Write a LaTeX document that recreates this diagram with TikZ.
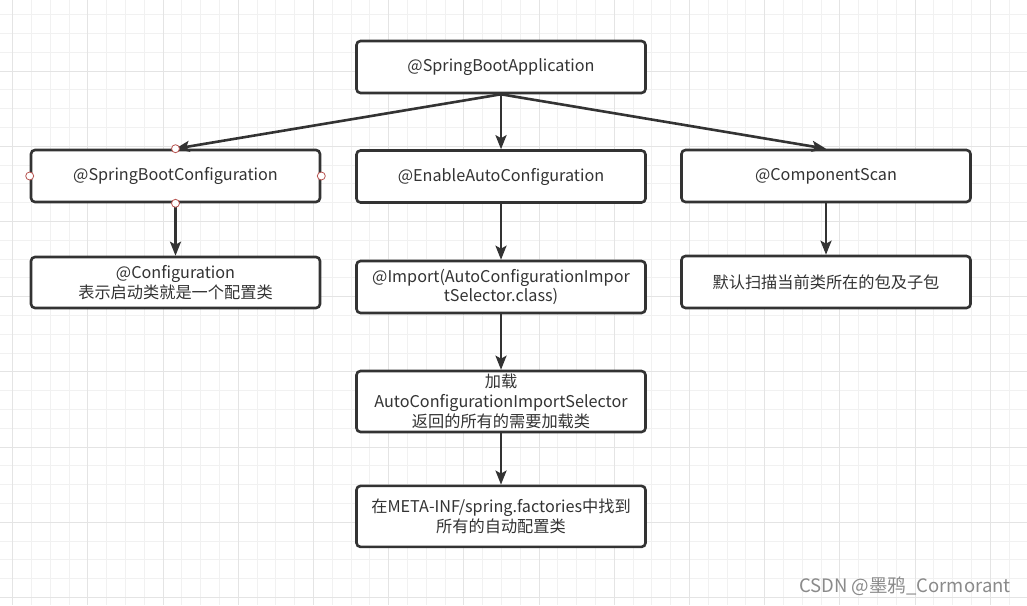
\documentclass[tikz,border=0pt]{standalone}
\usepackage{fontspec}
\setmainfont{Noto Sans CJK SC}
\usetikzlibrary{arrows.meta}
\definecolor{ink}{HTML}{333333}
\definecolor{gminor}{HTML}{F1F1F1}
\definecolor{gmajor}{HTML}{E4E4E4}
\definecolor{handlec}{HTML}{B85450}
\definecolor{wmc}{HTML}{8A8A8A}
\begin{document}
\begin{tikzpicture}[x=1pt,y=-1pt,
  box/.style={draw=ink, line width=2.6pt, rounded corners=4pt, fill=white,
    minimum width=289pt, minimum height=52pt, text=ink,
    font=\fontsize{16.2}{19.8}\selectfont, align=center, inner sep=0pt},
  arr/.style={draw=ink, line width=2.6pt, -{Stealth[length=14pt,width=11pt,inset=3pt]}},
  handle/.style={circle, draw=handlec, fill=white, line width=0.8pt, minimum size=8pt, inner sep=0pt},
  gmin/.style={draw=gminor, line width=1pt},
  gmaj/.style={draw=gmajor, line width=1pt},
  wm/.style={text=wmc, font=\fontsize{18.5}{22}\selectfont}]
\useasboundingbox[fill=white] (0,0) rectangle (1027,605);
% grid
\foreach \i in {0,...,54} \draw[gmin] ({12.7+18.8*\i},0) -- ({12.7+18.8*\i},605);
\foreach \i in {0,...,32} \draw[gmin] (0,{14.6+18.8*\i}) -- (1027,{14.6+18.8*\i});
\foreach \i in {0,...,13} \draw[gmaj] ({12.7+75.2*\i},0) -- ({12.7+75.2*\i},605);
\foreach \i in {0,...,8} \draw[gmaj] (0,{-4.2+75.2*\i}) -- (1027,{-4.2+75.2*\i});
% nodes
\node[box] (sba) at (501,67) {@SpringBootApplication};
\node[box] (sbc) at (175.5,176) {@SpringBootConfiguration};
\node[box] (eac) at (501,176.5) {@EnableAutoConfiguration};
\node[box] (cs) at (826,176) {@ComponentScan};
\node[box, minimum height=51pt] (cfg) at (175.5,282.5) {@Configuration\\表示启动类就是一个配置类};
\node[box] (imp) at (501,287) {@Import(AutoConfigurationImpor\\tSelector.class)};
\node[box] (scan) at (826,282) {默认扫描当前类所在的包及子包};
\node[box, minimum height=61pt] (load) at (501,401.5) {加载\\AutoConfigurationImportSelector\\返回的所有的需要加载类};
\node[box, minimum height=61pt] (meta) at (501,516.4) {在META-INF/spring.factories中找到\\所有的自动配置类};
% connectors
\draw[arr] (sba.south) -- (sbc.north);
\draw[arr] (sba.south) -- (eac.north);
\draw[arr] (sba.south) -- (cs.north);
\draw[arr] (sbc.south) -- (cfg.north);
\draw[arr] (eac.south) -- (imp.north);
\draw[arr] (imp.south) -- (load.north);
\draw[arr] (load.south) -- (meta.north);
\draw[arr] (cs.south) -- (scan.north);
% selection handles
\node[handle] (h1) at (sbc.north) {};
\node[handle] (h2) at (sbc.south) {};
\node[handle] (h3) at (sbc.west) {};
\node[handle] (h4) at (sbc.east) {};
% watermark
\node[wm] (wmark) at (905,586.5) {CSDN @墨鸦\_Cormorant};
\end{tikzpicture}
\end{document}
